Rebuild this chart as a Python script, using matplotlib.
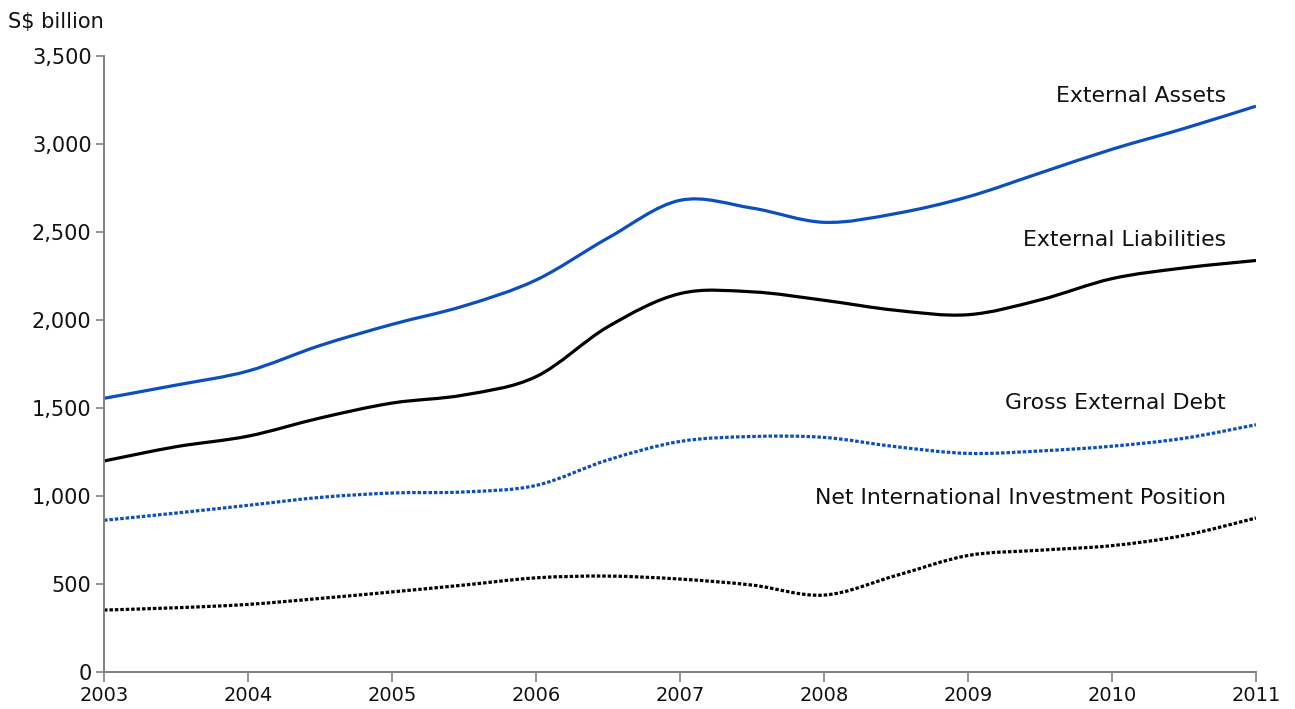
import matplotlib
matplotlib.use("Agg")
import matplotlib.pyplot as plt
from matplotlib.path import Path
from matplotlib.patches import PathPatch
from matplotlib.ticker import FuncFormatter
import numpy as np

periods = [2003.0, 2003.5, 2004.0, 2004.5, 2005.0, 2005.5, 2006.0, 2006.5, 2007.0,
           2007.5, 2008.0, 2008.5, 2009.0, 2009.5, 2010.0, 2010.5, 2011.0]
external_assets = [1555, 1630, 1710, 1855, 1975, 2080, 2227, 2466, 2680,
                   2636, 2555, 2605, 2700, 2835, 2970, 3088, 3215]
external_liabilities = [1199, 1280, 1340, 1443, 1528, 1574, 1678, 1962, 2150,
                        2160, 2112, 2055, 2030, 2114, 2235, 2296, 2338]
gross_external_debt = [862, 903, 947, 992, 1017, 1023, 1060, 1205, 1310,
                       1338, 1333, 1280, 1242, 1256, 1283, 1328, 1405]
niip = [352, 365, 384, 418, 455, 494, 535, 545, 528,
        494, 437, 548, 662, 692, 718, 776, 875]

year_ticks = list(range(2003, 2012))
y_ticks = list(range(0, 3501, 500))

series = [
    ("External Assets", external_assets, "#0a4fbd", "-"),
    ("External Liabilities", external_liabilities, "#000000", "-"),
    ("Gross External Debt", gross_external_debt, "#0a4fbd", (0, (1.1, 0.6))),
    ("Net International Investment Position", niip, "#000000", (0, (1.1, 0.6))),
]
label_pos = {
    "External Assets": 3272,
    "External Liabilities": 2455,
    "Gross External Debt": 1528,
    "Net International Investment Position": 989,
}

plt.rcParams['font.family'] = ['DejaVu Sans']

W, H = 1295, 709
fig = plt.figure(figsize=(W / 100, H / 100), dpi=100)
ax = fig.add_axes([104 / W, 1 - 672 / H, (1256 - 104) / W, (672 - 56) / H])


def smooth_path(xs, ys):
    pts = np.column_stack([xs, ys]).astype(float)
    n = len(pts)
    verts = [pts[0]]
    codes = [Path.MOVETO]
    for i in range(n - 1):
        p0 = pts[i - 1] if i > 0 else pts[i]
        p1 = pts[i]
        p2 = pts[i + 1]
        p3 = pts[i + 2] if i + 2 < n else pts[i + 1]
        c1 = p1 + (p2 - p0) / 6.0
        c2 = p2 - (p3 - p1) / 6.0
        verts += [c1, c2, p2]
        codes += [Path.CURVE4] * 3
    return Path(verts, codes)


for name, vals, color, ls in series:
    patch = PathPatch(smooth_path(periods, vals), fill=False, edgecolor=color,
                      linewidth=2.3, linestyle=ls, capstyle='butt')
    ax.add_patch(patch)
    ax.text(2010.79, label_pos[name], name, ha='right', va='center',
            fontsize=15.8, color='#111111')

ax.set_xlim(2003, 2011)
ax.set_ylim(0, 3500)
ax.set_xticks(year_ticks)
ax.set_xticklabels([str(y) for y in year_ticks])
ax.set_yticks(y_ticks)
ax.yaxis.set_major_formatter(FuncFormatter(lambda v, p: f"{int(v):,}"))

for s in ['top', 'right']:
    ax.spines[s].set_visible(False)
for s in ['left', 'bottom']:
    ax.spines[s].set_color('#808080')
    ax.spines[s].set_linewidth(1.4)

ax.tick_params(axis='x', direction='out', length=7, width=1.2, color='#808080',
               labelsize=14, pad=3, labelcolor='#111111')
ax.tick_params(axis='y', direction='out', length=6, width=1.2, color='#808080',
               labelsize=15, pad=3, labelcolor='#111111')

fig.text(8 / W, 1 - 22 / H, "S$ billion", ha='left', va='center', fontsize=15,
         color='#111111')

fig.savefig("out.png", dpi=100)
